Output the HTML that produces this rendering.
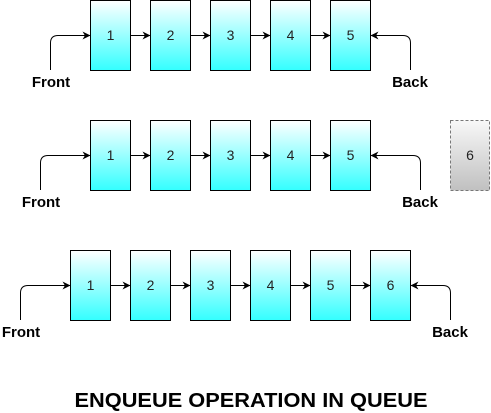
<!DOCTYPE html>
<html><head><meta charset="utf-8"><style>
html,body{margin:0;padding:0;background:#fff;}
svg{display:block;font-family:"Liberation Sans",Arial,sans-serif;}
</style></head><body>
<svg id="s" width="491" height="413" viewBox="0 0 491 413" xmlns="http://www.w3.org/2000/svg">
<defs>
<linearGradient id="cy" x1="0" y1="0" x2="0" y2="1"><stop offset="0" stop-color="#ffffff"/><stop offset="1" stop-color="#33ffff"/></linearGradient>
<linearGradient id="gr" x1="0" y1="0" x2="0" y2="1"><stop offset="0" stop-color="#f8f8f8"/><stop offset="1" stop-color="#c0c0c0"/></linearGradient>
<marker id="ar" viewBox="0 0 10 10" refX="10" refY="5" markerWidth="8" markerHeight="8" markerUnits="userSpaceOnUse" orient="auto"><path d="M0,0 L10,5 L0,10 L3,5 Z" fill="#000"/></marker>
</defs>
<text x="251" y="407" text-anchor="middle" font-size="20" font-weight="bold" textLength="353" lengthAdjust="spacingAndGlyphs">ENQUEUE OPERATION IN QUEUE</text>
</svg>
<script>
const rows=[
 {values:[1,2,3,4,5],x0:90,y0:0,frontX:50,backX:410,front:"Front",back:"Back"},
 {values:[1,2,3,4,5],x0:90,y0:120,frontX:40,backX:420,front:"Front",back:"Back"},
 {values:[1,2,3,4,5,6],x0:70,y0:250,frontX:20,backX:450,front:"Front",back:"Back"}
];
const pending=[6];
const svg=document.getElementById('s');
const NS='http://www.w3.org/2000/svg';
function mk(t,a){const e=document.createElementNS(NS,t);for(const k in a)e.setAttribute(k,a[k]);svg.appendChild(e);return e;}
rows.forEach((r,ri)=>{
 const W=40,H=70,G=60,my=r.y0+35;
 r.values.forEach((v,i)=>{
  const x=r.x0+i*G;
  const b=mk('rect',{x:x+.5,y:r.y0+.5,width:W,height:H,fill:'url(#cy)',stroke:'#000','stroke-width':1});
  
  
  const t=mk('text',{x:x+20.5,y:my+5,'text-anchor':'middle','font-size':14,fill:'#222'});
  t.textContent=v;
  
  
  if(i<r.values.length-1){
   const l=mk('line',{x1:x+W+.5,y1:my+.5,x2:x+G+.5,y2:my+.5,stroke:'#000','marker-end':'url(#ar)'});
   
   
  }
 });
 const last=r.x0+(r.values.length-1)*G+W;
 const fp=mk('path',{d:`M${r.frontX+.5},${r.y0+H} L${r.frontX+.5},${my+8} Q${r.frontX+.5},${my+.5} ${r.frontX+8},${my+.5} L${r.x0+.5},${my+.5}`,fill:'none',stroke:'#000','marker-end':'url(#ar)'});
 
 
 const bp=mk('path',{d:`M${r.backX+.5},${r.y0+H} L${r.backX+.5},${my+8} Q${r.backX+.5},${my+.5} ${r.backX-7},${my+.5} L${last+.5},${my+.5}`,fill:'none',stroke:'#000','marker-end':'url(#ar)'});
 
 
 const fl=mk('text',{x:r.frontX+1,y:r.y0+87,'text-anchor':'middle','font-size':15,'font-weight':'bold'});
 fl.textContent=r.front;
 
 
 const bl=mk('text',{x:r.backX,y:r.y0+87,'text-anchor':'middle','font-size':15,'font-weight':'bold'});
 bl.textContent=r.back;
 
 
});
pending.forEach(v=>{
 const p=mk('rect',{x:450.5,y:120.5,width:39,height:70,fill:'url(#gr)',stroke:'#777','stroke-dasharray':'3,2'});
 
 
 const t=mk('text',{x:470,y:160,'text-anchor':'middle','font-size':14,fill:'#222'});
 t.textContent=v;
 
 
});
</script>
</body></html>
